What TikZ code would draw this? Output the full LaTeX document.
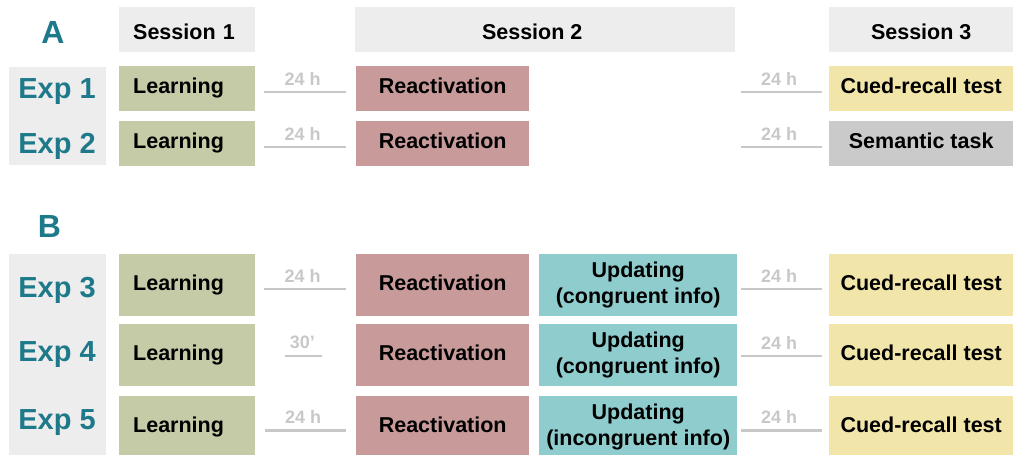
\documentclass[tikz,border=0pt]{standalone}
\usepackage{fontspec}
\setmainfont{Liberation Sans}
\usetikzlibrary{calc}
\definecolor{hdrc}{HTML}{EDEDED}
\definecolor{learnc}{HTML}{C5CBA6}
\definecolor{reactc}{HTML}{C89A9A}
\definecolor{updc}{HTML}{8FCCCD}
\definecolor{cuedc}{HTML}{F1E5AA}
\definecolor{semc}{HTML}{CACACA}
\definecolor{tealc}{HTML}{1E7A8A}
\definecolor{gapc}{HTML}{C8C8C8}
\begin{document}
\begin{tikzpicture}[x=1pt,y=-1pt,
  box/.style={rectangle, inner sep=0pt, anchor=north west, align=center,
    font=\fontsize{21.5}{26}\selectfont\bfseries},
  oneline/.style={text height=15.4pt, text depth=5pt},
  hdrline/.style={text height=20pt, text depth=0pt},
  leftbox/.style={box, inner xsep=14pt, text width=108pt, align=left},
  hdrbox/.style={box, hdrline, fill=hdrc, minimum height=45pt},
  learnbox/.style={leftbox, oneline, fill=learnc, minimum width=136pt},
  reactbox/.style={box, oneline, fill=reactc, minimum width=173pt},
  updbox/.style={box, fill=updc, minimum width=198pt},
  lastbox/.style={box, oneline, minimum width=184pt},
  labbox/.style={rectangle, inner sep=0pt, anchor=north west, fill=hdrc, minimum width=97pt},
  explab/.style={font=\fontsize{29}{29}\selectfont\bfseries, text=tealc, inner sep=0pt, anchor=base},
  panel/.style={font=\fontsize{32}{32}\selectfont\bfseries, text=tealc, inner sep=0pt},
  gapline/.style={draw=gapc, line width=2.5pt},
  gaplbl/.style={font=\fontsize{18}{18}\selectfont\bfseries, text=gapc, inner sep=0pt}
]
\useasboundingbox (0,0) rectangle (1013,455);

% panel letters
\node[panel] (pA) at (53,32) {A};
\node[panel] (pB) at (49.5,226) {B};

% session headers
\node[hdrbox, leftbox, hdrline, minimum width=136pt] (s1) at (119,7) {Session 1};
\node[hdrbox, minimum width=380pt, label={[font=\fontsize{21.5}{26}\selectfont\bfseries, text height=20pt, text depth=0pt, xshift=-13pt]center:Session 2}] (s2) at (355,7) {};
\node[hdrbox, minimum width=184pt] (s3) at (829,7) {Session 3};

% label backgrounds
\node[labbox, minimum height=98pt] (labA) at (9,67) {};
\node[labbox, minimum height=201pt] (labB) at (9,254) {};

% ---------- Panel A ----------
\node[explab] (e1) at (57,98.5) {Exp 1};
\node[explab] (e2) at (57,153.5) {Exp 2};

\node[learnbox, minimum height=45pt] (l1) at (119,66) {Learning};
\node[reactbox, minimum height=45pt] (r1) at (356,66) {Reactivation};
\node[lastbox, fill=cuedc, minimum height=45pt] (c1) at (829,66) {Cued-recall test};

\node[learnbox, minimum height=45pt] (l2) at (119,121) {Learning};
\node[reactbox, minimum height=45pt] (r2) at (356,121) {Reactivation};
\node[lastbox, fill=semc, minimum height=45pt] (c2) at (829,121) {Semantic task};

\coordinate (a1s) at (264,92);  \coordinate (a1e) at (346,92);
\coordinate (b1s) at (741,92);  \coordinate (b1e) at (822,92);
\coordinate (a2s) at (264,147); \coordinate (a2e) at (346,147);
\coordinate (b2s) at (741,147); \coordinate (b2e) at (822,147);

% ---------- Panel B ----------
\node[explab] (e3) at (57,297.5) {Exp 3};
\node[explab] (e4) at (57,361.5) {Exp 4};
\node[explab] (e5) at (57,429.5) {Exp 5};

\node[learnbox, minimum height=62pt] (l3) at (119,254) {Learning};
\node[reactbox, minimum height=62pt] (r3) at (356,254) {Reactivation};
\node[updbox, minimum height=62pt] (u3) at (539,254) {Updating\\(congruent info)};
\node[lastbox, fill=cuedc, minimum height=62pt] (c3) at (829,254) {Cued-recall test};

\node[learnbox, minimum height=62pt] (l4) at (119,324) {Learning};
\node[reactbox, minimum height=62pt] (r4) at (356,324) {Reactivation};
\node[updbox, minimum height=62pt] (u4) at (539,324) {Updating\\(congruent info)};
\node[lastbox, fill=cuedc, minimum height=62pt] (c4) at (829,324) {Cued-recall test};

\node[learnbox, minimum height=62pt] (l5) at (119,396) {Learning};
\node[reactbox, minimum height=62pt] (r5) at (356,396) {Reactivation};
\node[updbox, minimum height=62pt] (u5) at (539,396) {Updating\\(incongruent info)};
\node[lastbox, fill=cuedc, minimum height=62pt] (c5) at (829,396) {Cued-recall test};

\coordinate (a3s) at (264,289);   \coordinate (a3e) at (346,289);
\coordinate (b3s) at (741,289);   \coordinate (b3e) at (822,289);
\coordinate (a4s) at (285,356);   \coordinate (a4e) at (322,356);
\coordinate (b4s) at (741,356);   \coordinate (b4e) at (822,356);
\coordinate (a5s) at (265,430.5); \coordinate (a5e) at (346,430.5);
\coordinate (b5s) at (741,430.5); \coordinate (b5e) at (822,430.5);

% gap lines with labels
\foreach \r/\t in {a1/24 h, b1/24 h, a2/24 h, b2/24 h, a3/24 h, b3/24 h, a4/30’, b4/24 h, a5/24 h, b5/24 h}{
  \draw[gapline] (\r s) -- (\r e);
  \node[gaplbl] (\r lbl) at ($(\r s)!0.47!(\r e)+(0,-13.5)$) {\t};
}
\end{tikzpicture}
\end{document}
